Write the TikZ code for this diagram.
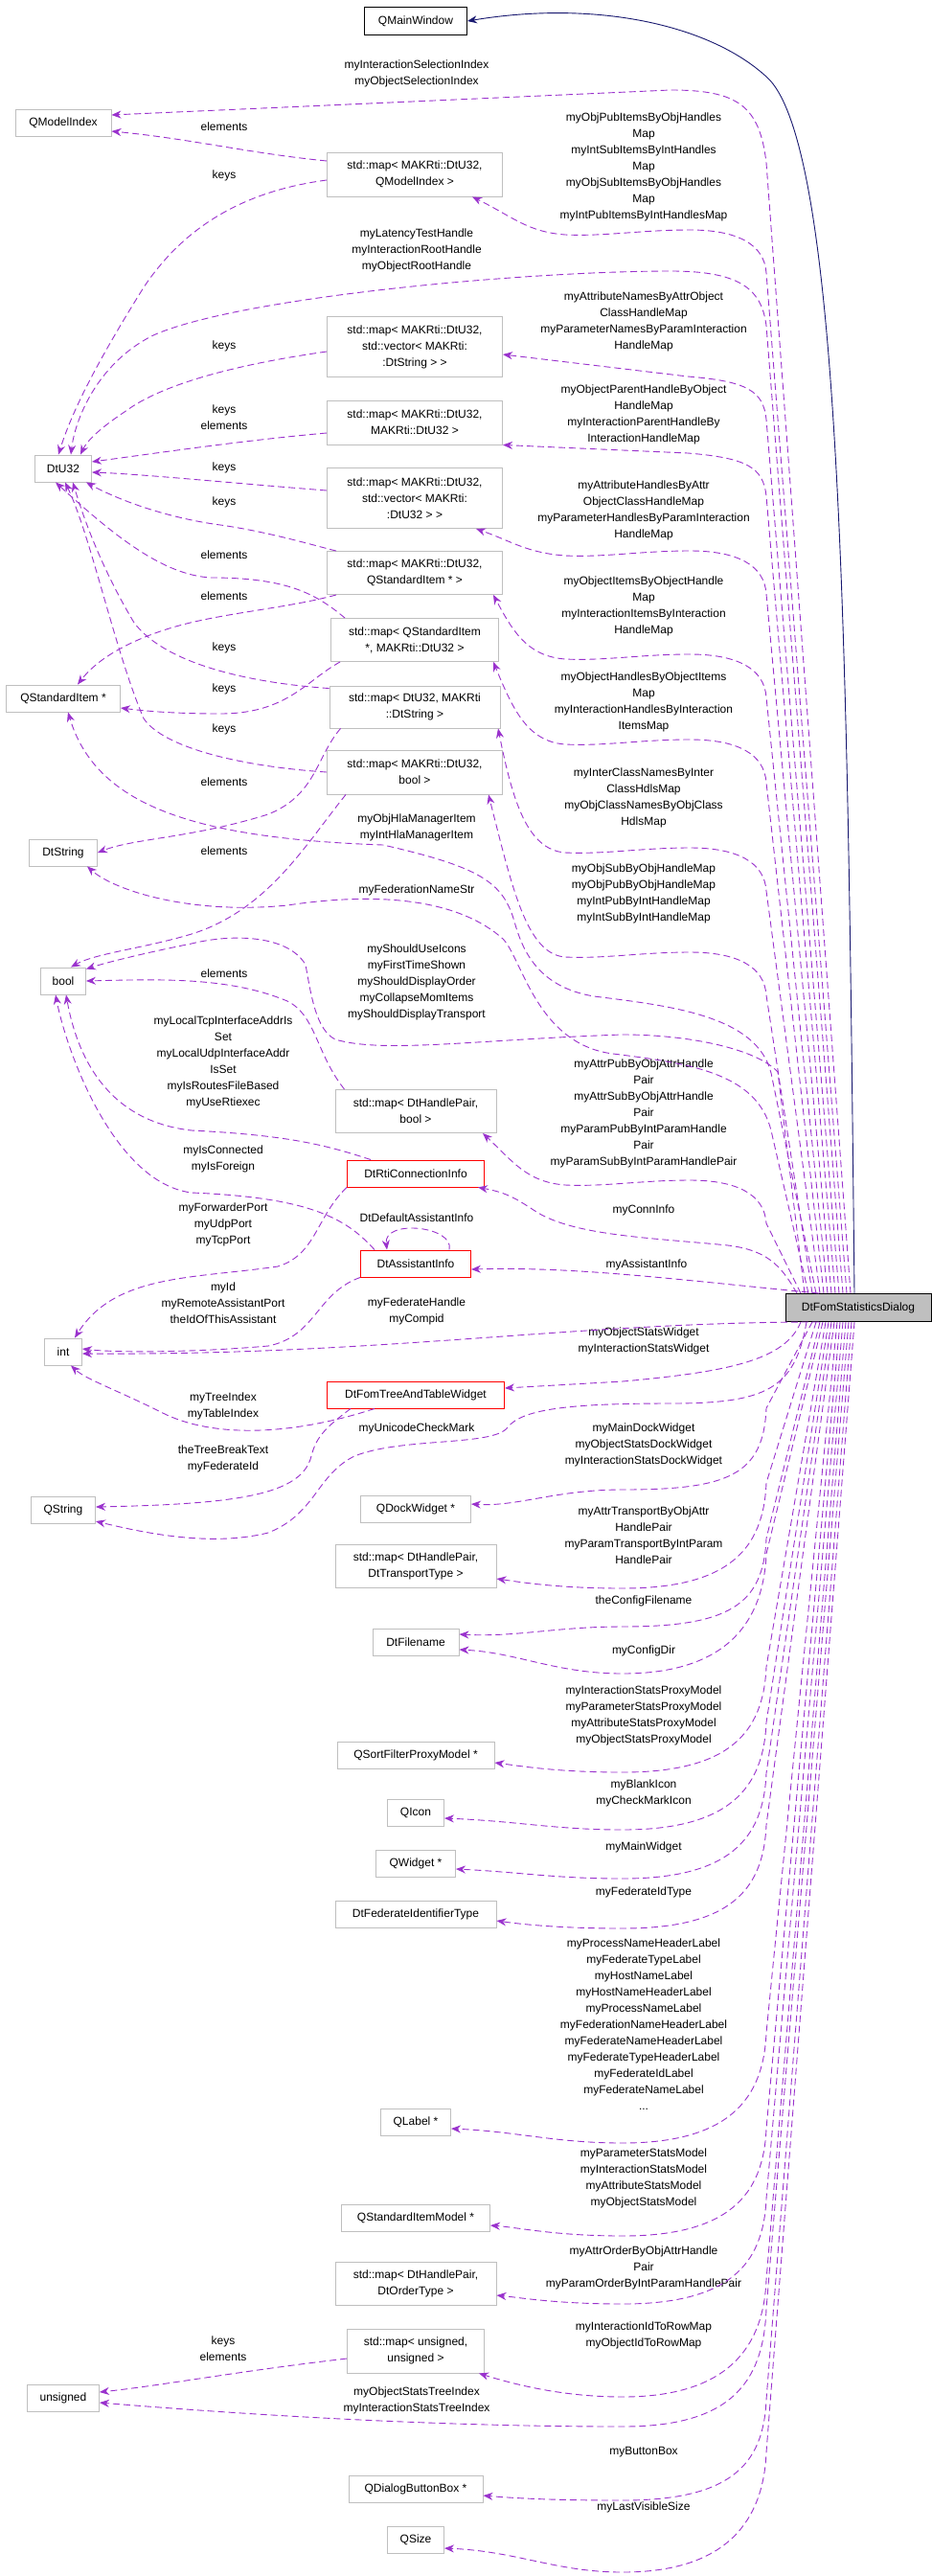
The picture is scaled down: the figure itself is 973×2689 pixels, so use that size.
\documentclass[tikz,border=0pt]{standalone}
\usepackage{fontspec}
\setmainfont{Liberation Sans}
\usetikzlibrary{arrows.meta,calc}
\definecolor{dep}{HTML}{9A32CD}
\definecolor{inh}{HTML}{191970}
\definecolor{bx}{HTML}{BFBFBF}
\tikzset{
 box/.style={draw=bx,fill=white,line width=0.9pt,align=center,inner sep=2pt,font=\fontsize{12}{17}\selectfont},
 rbox/.style={box,draw=red},
 lbl/.style={align=center,inner sep=0pt,font=\fontsize{12}{17}\selectfont},
 dep/.style={draw=dep,line width=0.9pt,dash pattern=on 7pt off 4pt,-{Stealth[length=10pt,width=8pt,fill=dep]}},
 inh/.style={draw=inh,line width=0.9pt,-{Stealth[length=10pt,width=8pt,fill=inh]}}
}
\newcommand\upE[3]{\draw[dep] (#2,0 |- dlg.north) -- (800,#3+70) .. controls (797,#3+40) and (780,#3+30) .. (718,#3+25) -- (#1);}
\newcommand\upB[4]{\draw[dep] (#2,0 |- dlg.north) -- (800,#3+#4+45) .. controls (798,#3+#4+15) and (770,#3+#4) .. (720,#3+#4) .. controls (670,#3+#4) and (630,#3+#4+7) .. (590,#3+#4+5) .. controls (550,#3+#4+2) and (535,#3+0.6*#4) .. (#1);}
\newcommand\dnE[4]{\draw[dep] (#2,0 |- dlg.south) -- (800,#3-100) .. controls (797,#3-30) and (760,#3+#4) .. (650,#3+#4) .. controls (580,#3+#4) and (540,#3+3) .. (#1);}
\begin{document}
\begin{tikzpicture}[x=1pt,y=-1pt]
\useasboundingbox[fill=white] (0,0) rectangle (973,2689);
% nodes
\node[box,draw=black,minimum width=107,minimum height=29] (qmw) at (434,22) {QMainWindow};
\node[box,minimum width=100,minimum height=28] (qmi) at (66,128) {QModelIndex};
\node[box,minimum width=183,minimum height=46] (mqmi) at (433,182) {std::map< MAKRti::DtU32,\\QModelIndex >};
\node[box,minimum width=59,minimum height=28] (dtu32) at (66,489) {DtU32};
\node[box,minimum width=183,minimum height=63] (mvs) at (433,362) {std::map< MAKRti::DtU32,\\std::vector< MAKRti:\\:DtString > >};
\node[box,minimum width=183,minimum height=46] (mdd) at (433,441) {std::map< MAKRti::DtU32,\\MAKRti::DtU32 >};
\node[box,minimum width=183,minimum height=63] (mvd) at (433,520) {std::map< MAKRti::DtU32,\\std::vector< MAKRti:\\:DtU32 > >};
\node[box,minimum width=183,minimum height=45] (mqsi) at (433,598) {std::map< MAKRti::DtU32,\\QStandardItem * >};
\node[box,minimum width=175,minimum height=45] (mqsid) at (433,668) {std::map< QStandardItem\\*, MAKRti::DtU32 >};
\node[box,minimum width=119,minimum height=28] (qsi) at (66,729) {QStandardItem *};
\node[box,minimum width=178,minimum height=44] (mdds) at (433,738) {std::map< DtU32, MAKRti\\::DtString >};
\node[box,minimum width=183,minimum height=46] (mdb) at (433,806) {std::map< MAKRti::DtU32,\\bool >};
\node[box,minimum width=71,minimum height=28] (dtstr) at (66,890) {DtString};
\node[box,minimum width=47,minimum height=28] (bool) at (66,1024) {bool};
\node[box,minimum width=168,minimum height=45] (mhpb) at (434,1160) {std::map< DtHandlePair,\\bool >};
\node[rbox,minimum width=143,minimum height=28] (rti) at (434,1225) {DtRtiConnectionInfo};
\node[rbox,minimum width=115,minimum height=28] (dai) at (434,1319) {DtAssistantInfo};
\node[box,minimum width=39,minimum height=28] (int) at (66,1411) {int};
\node[box,draw=black,fill=bx,minimum width=152,minimum height=29] (dlg) at (896,1365) {DtFomStatisticsDialog};
\node[rbox,minimum width=185,minimum height=28] (tree) at (434,1456) {DtFomTreeAndTableWidget};
\node[box,minimum width=67,minimum height=28] (qstr) at (66,1576) {QString};
\node[box,minimum width=115,minimum height=28] (qdock) at (434,1575) {QDockWidget *};
\node[box,minimum width=168,minimum height=45] (mtr) at (434,1635) {std::map< DtHandlePair,\\DtTransportType >};
\node[box,minimum width=90,minimum height=28] (dfn) at (434,1714) {DtFilename};
\node[box,minimum width=164,minimum height=28] (qsort) at (434,1832) {QSortFilterProxyModel *};
\node[box,minimum width=59,minimum height=28] (qicon) at (434,1892) {QIcon};
\node[box,minimum width=83,minimum height=28] (qwid) at (434,1945) {QWidget *};
\node[box,minimum width=168,minimum height=28] (dfit) at (434,1998) {DtFederateIdentifierType};
\node[box,minimum width=73,minimum height=28] (qlabel) at (434,2215) {QLabel *};
\node[box,minimum width=155,minimum height=28] (qsim) at (434,2315) {QStandardItemModel *};
\node[box,minimum width=168,minimum height=45] (mord) at (434,2384) {std::map< DtHandlePair,\\DtOrderType >};
\node[box,minimum width=143,minimum height=46] (muns) at (434,2454) {std::map< unsigned,\\unsigned >};
\node[box,minimum width=75,minimum height=28] (uns) at (66,2503) {unsigned};
\node[box,minimum width=140,minimum height=28] (qdbb) at (434,2598) {QDialogButtonBox *};
\node[box,minimum width=59,minimum height=28] (qsize) at (434,2651) {QSize};
% labels
\node[lbl] (l1) at (435,77) {myInteractionSelectionIndex\\myObjectSelectionIndex};
\node[lbl] (l2) at (234,132) {elements};
\node[lbl] (l3) at (234,183) {keys};
\node[lbl] (l4) at (672,174) {myObjPubItemsByObjHandles\\Map\\myIntSubItemsByIntHandles\\Map\\myObjSubItemsByObjHandles\\Map\\myIntPubItemsByIntHandlesMap};
\node[lbl] (l5) at (435,261) {myLatencyTestHandle\\myInteractionRootHandle\\myObjectRootHandle};
\node[lbl] (l6) at (234,361) {keys};
\node[lbl] (l7) at (672,336) {myAttributeNamesByAttrObject\\ClassHandleMap\\myParameterNamesByParamInteraction\\HandleMap};
\node[lbl] (l8) at (234,436) {keys\\elements};
\node[lbl] (l9) at (672,433) {myObjectParentHandleByObject\\HandleMap\\myInteractionParentHandleBy\\InteractionHandleMap};
\node[lbl] (l10) at (234,488) {keys};
\node[lbl] (l11) at (234,524) {keys};
\node[lbl] (l12) at (672,533) {myAttributeHandlesByAttr\\ObjectClassHandleMap\\myParameterHandlesByParamInteraction\\HandleMap};
\node[lbl] (l13) at (234,579) {elements};
\node[lbl] (l14) at (234,622) {elements};
\node[lbl] (l15) at (672,633) {myObjectItemsByObjectHandle\\Map\\myInteractionItemsByInteraction\\HandleMap};
\node[lbl] (l16) at (234,676) {keys};
\node[lbl] (l17) at (234,719) {keys};
\node[lbl] (l18) at (234,761) {keys};
\node[lbl] (l19) at (672,733) {myObjectHandlesByObjectItems\\Map\\myInteractionHandlesByInteraction\\ItemsMap};
\node[lbl] (l20) at (234,816) {elements};
\node[lbl] (l21) at (234,888) {elements};
\node[lbl] (l22) at (435,864) {myObjHlaManagerItem\\myIntHlaManagerItem};
\node[lbl] (l23) at (672,833) {myInterClassNamesByInter\\ClassHdlsMap\\myObjClassNamesByObjClass\\HdlsMap};
\node[lbl] (l24) at (435,929) {myFederationNameStr};
\node[lbl] (l25) at (672,933) {myObjSubByObjHandleMap\\myObjPubByObjHandleMap\\myIntPubByIntHandleMap\\myIntSubByIntHandleMap};
\node[lbl] (l26) at (435,1025) {myShouldUseIcons\\myFirstTimeShown\\myShouldDisplayOrder\\myCollapseMomItems\\myShouldDisplayTransport};
\node[lbl] (l27) at (234,1016) {elements};
\node[lbl] (l28) at (233,1109) {myLocalTcpInterfaceAddrIs\\Set\\myLocalUdpInterfaceAddr\\IsSet\\myIsRoutesFileBased\\myUseRtiexec};
\node[lbl] (l29) at (672,1162) {myAttrPubByObjAttrHandle\\Pair\\myAttrSubByObjAttrHandle\\Pair\\myParamPubByIntParamHandle\\Pair\\myParamSubByIntParamHandlePair};
\node[lbl] (l30) at (233,1210) {myIsConnected\\myIsForeign};
\node[lbl] (l31) at (672,1263) {myConnInfo};
\node[lbl] (l32) at (233,1278) {myForwarderPort\\myUdpPort\\myTcpPort};
\node[lbl] (l33) at (435,1271) {DtDefaultAssistantInfo};
\node[lbl] (l34) at (675,1320) {myAssistantInfo};
\node[lbl] (l35) at (233,1360) {myId\\myRemoteAssistantPort\\theIdOfThisAssistant};
\node[lbl] (l36) at (435,1369) {myFederateHandle\\myCompid};
\node[lbl] (l37) at (672,1400) {myObjectStatsWidget\\myInteractionStatsWidget};
\node[lbl] (l38) at (233,1468) {myTreeIndex\\myTableIndex};
\node[lbl] (l39) at (435,1491) {myUnicodeCheckMark};
\node[lbl] (l40) at (233,1523) {theTreeBreakText\\myFederateId};
\node[lbl] (l41) at (672,1508) {myMainDockWidget\\myObjectStatsDockWidget\\myInteractionStatsDockWidget};
\node[lbl] (l42) at (672,1603) {myAttrTransportByObjAttr\\HandlePair\\myParamTransportByIntParam\\HandlePair};
\node[lbl] (l43) at (672,1671) {theConfigFilename};
\node[lbl] (l44) at (672,1723) {myConfigDir};
\node[lbl] (l45) at (672,1791) {myInteractionStatsProxyModel\\myParameterStatsProxyModel\\myAttributeStatsProxyModel\\myObjectStatsProxyModel};
\node[lbl] (l46) at (672,1872) {myBlankIcon\\myCheckMarkIcon};
\node[lbl] (l47) at (672,1928) {myMainWidget};
\node[lbl] (l48) at (672,1975) {myFederateIdType};
\node[lbl] (l49) at (672,2113) {myProcessNameHeaderLabel\\myFederateTypeLabel\\myHostNameLabel\\myHostNameHeaderLabel\\myProcessNameLabel\\myFederationNameHeaderLabel\\myFederateNameHeaderLabel\\myFederateTypeHeaderLabel\\myFederateIdLabel\\myFederateNameLabel\\...};
\node[lbl] (l50) at (672,2274) {myParameterStatsModel\\myInteractionStatsModel\\myAttributeStatsModel\\myObjectStatsModel};
\node[lbl] (l51) at (672,2367) {myAttrOrderByObjAttrHandle\\Pair\\myParamOrderByIntParamHandlePair};
\node[lbl] (l52) at (672,2438) {myInteractionIdToRowMap\\myObjectIdToRowMap};
\node[lbl] (l53) at (233,2452) {keys\\elements};
\node[lbl] (l54) at (435,2506) {myObjectStatsTreeIndex\\myInteractionStatsTreeIndex};
\node[lbl] (l55) at (672,2560) {myButtonBox};
\node[lbl] (l56) at (672,2617) {myLastVisibleSize};
% inheritance
\draw[inh] (892,0 |- dlg.north) .. controls (885,700) and (880,150) .. (800,80) .. controls (740,25) and (620,0) .. (qmw.east);
% up edges from dialog
\draw[dep] (888,0 |- dlg.north) -- (800,170) .. controls (793,110) and (770,94) .. (700,94) -- ($(qmi.east)+(0,-8)$);
\upB{$(mqmi.south)+(60,0)$}{884}{205}{35}
\draw[dep] (880,0 |- dlg.north) -- (800,340) .. controls (795,300) and (770,283) .. (700,283) .. controls (550,283) and (250,310) .. (160,350) .. controls (100,380) and (78,440) .. ($(dtu32.north)+(8,0)$);
\upE{$(mvs.east)+(0,8)$}{876}{368}
\upE{mdd.south east}{872}{448}
\upB{$(mvd.south)+(64,0)$}{868}{551}{24}
\upB{$(mqsi.south)+(82,0)$}{864}{621}{62}
\upB{$(mqsid.south)+(82,0)$}{860}{690}{82}
\upB{$(mdds.south)+(87,0)$}{856}{760}{125}
\draw[dep] (852,0 |- dlg.north) -- (805,1120) .. controls (790,1060) and (700,1050) .. (620,1040) .. controls (560,1030) and (545,990) .. (537,962) .. controls (525,920) and (500,905) .. (400,882) .. controls (200,875) and (100,840) .. ($(qsi.south)+(5,0)$);
\upB{$(mdb.south)+(77,0)$}{848}{829}{165}
\draw[dep] (844,0 |- dlg.north) -- (805,1180) .. controls (790,1120) and (720,1110) .. (640,1100) .. controls (560,1090) and (545,1000) .. (525,980) .. controls (480,940) and (400,930) .. (300,945) .. controls (200,955) and (120,930) .. ($(dtstr.south)+(25,0)$);
\draw[dep] (840,0 |- dlg.north) -- (812,1119) .. controls (790,1095) and (720,1080) .. (650,1080) .. controls (500,1085) and (400,1100) .. (350,1085) .. controls (330,1075) and (325,1040) .. (319,1007) .. controls (300,975) and (240,975) .. (200,985) .. controls (150,995) and (110,1005) .. ($(bool.north east)+(0,2)$);
\upB{$(mhpb.south)+(70,0)$}{836}{1182}{50}
\draw[dep] (832,0 |- dlg.north) .. controls (815,1320) and (800,1305) .. (760,1300) .. controls (680,1292) and (600,1290) .. (560,1265) .. controls (540,1252) and (530,1245) .. ($(rti.south)+(65,0)$);
\draw[dep] (dlg.160) .. controls (700,1335) and (600,1322) .. ($(dai.east)+(0,6)$);
\draw[dep] (dlg.200) .. controls (600,1380) and (400,1415) .. ($(int.east)+(0,2)$);
% left side edges
\draw[dep] ($(mqmi.west)+(0,-14)$) .. controls (260,160) and (200,145) .. ($(qmi.east)+(0,9)$);
\draw[dep] ($(mqmi.west)+(0,6)$) .. controls (250,200) and (190,240) .. (150,300) .. controls (100,380) and (75,430) .. ($(dtu32.north)+(-5,0)$);
\draw[dep] ($(mvs.west)+(0,5)$) .. controls (250,380) and (170,400) .. (130,430) .. controls (100,450) and (90,462) .. ($(dtu32.north)+(18,0)$);
\draw[dep] ($(mdd.west)+(0,11)$) .. controls (250,460) and (150,475) .. ($(dtu32.east)+(0,-7)$);
\draw[dep] ($(mvd.west)+(0,-8)$) .. controls (250,505) and (150,495) .. ($(dtu32.east)+(0,4)$);
\draw[dep] ($(mqsi.north west)+(10,0)$) .. controls (330,570) and (280,555) .. (230,548) .. controls (170,540) and (120,520) .. ($(dtu32.south east)+(-6,0)$);
\draw[dep] ($(mqsid.north west)+(15,0)$) .. controls (330,620) and (300,603) .. (220,603) .. controls (170,600) and (120,560) .. ($(dtu32.south)+(-8,0)$);
\draw[dep] ($(mdds.north west)+(0,3)$) .. controls (250,712) and (170,690) .. (140,650) .. controls (110,600) and (90,550) .. ($(dtu32.south)+(10,0)$);
\draw[dep] (mdb.west) .. controls (250,800) and (170,780) .. (150,750) .. controls (120,680) and (95,560) .. ($(dtu32.south)+(2,0)$);
\draw[dep] ($(mqsi.south west)+(10,0)$) .. controls (300,635) and (230,640) .. (180,655) .. controls (130,670) and (100,690) .. ($(qsi.north)+(15,0)$);
\draw[dep] ($(mqsid.south west)+(10,0)$) .. controls (320,710) and (300,745) .. (230,745) .. controls (180,745) and (150,742) .. ($(qsi.east)+(0,10)$);
\draw[dep] ($(mdds.south west)+(12,0)$) .. controls (330,790) and (330,830) .. (280,850) .. controls (200,875) and (140,875) .. (dtstr.east);
\draw[dep] ($(mdb.south west)+(20,0)$) .. controls (320,880) and (280,950) .. (200,975) .. controls (150,990) and (100,995) .. ($(bool.north)+(8,0)$);
\draw[dep] ($(mhpb.north west)+(10,0)$) .. controls (330,1100) and (330,1060) .. (300,1045) .. controls (240,1020) and (170,1022) .. (bool.east);
\draw[dep] ($(rti.north west)+(25,0)$) .. controls (340,1195) and (300,1185) .. (200,1180) .. controls (110,1170) and (80,1100) .. ($(bool.south)+(3,0)$);
\draw[dep] ($(dai.north west)+(15,0)$) .. controls (360,1270) and (320,1250) .. (200,1245) .. controls (120,1235) and (70,1100) .. ($(bool.south)+(-8,0)$);
\draw[dep] ($(dai.north)+(35,0)$) .. controls (475,1280) and (400,1272) .. ($(dai.north)+(-30,0)$);
\draw[dep] (rti.south west) .. controls (330,1270) and (330,1310) .. (290,1322) .. controls (200,1335) and (120,1330) .. ($(int.north)+(12,0)$);
\draw[dep] (dai.south west) .. controls (330,1350) and (330,1395) .. (280,1405) .. controls (200,1412) and (120,1412) .. ($(int.east)+(0,-3)$);
\draw[dep] ($(tree.south west)+(50,0)$) .. controls (300,1500) and (220,1500) .. (170,1475) .. controls (120,1450) and (90,1440) .. ($(int.south)+(8,0)$);
\draw[dep] ($(tree.south west)+(25,0)$) .. controls (340,1490) and (330,1500) .. (325,1520) .. controls (315,1560) and (250,1570) .. ($(qstr.east)+(0,-3)$);
\draw[dep] ($(muns.west)+(0,8)$) .. controls (250,2475) and (170,2490) .. ($(uns.east)+(0,-6)$);
% down edges from dialog
\draw[dep] (836,0 |- dlg.south) .. controls (820,1420) and (760,1432) .. (650,1442) -- ($(tree.east)+(0,-7)$);
\draw[dep] (842,0 |- dlg.south) .. controls (830,1450) and (800,1465) .. (700,1465) .. controls (600,1465) and (545,1470) .. (530,1490) .. controls (515,1510) and (420,1500) .. (370,1520) .. controls (330,1540) and (330,1580) .. (280,1600) .. controls (220,1615) and (150,1600) .. ($(qstr.east)+(0,12)$);
\dnE{$(qdock.east)+(0,-5)$}{848}{1570}{-15}
\dnE{$(mtr.east)+(0,13)$}{852}{1648}{10}
\dnE{$(dfn.east)+(0,-8)$}{856}{1706}{-8}
\dnE{$(dfn.east)+(0,8)$}{859}{1722}{25}
\dnE{$(qsort.east)+(0,8)$}{862}{1840}{10}
\dnE{$(qicon.east)+(0,6)$}{865}{1898}{12}
\dnE{$(qwid.east)+(0,6)$}{868}{1951}{10}
\dnE{$(dfit.east)+(0,7)$}{871}{2005}{8}
\dnE{$(qlabel.east)+(0,7)$}{874}{2222}{15}
\dnE{$(qsim.east)+(0,8)$}{877}{2322}{12}
\dnE{$(mord.east)+(0,12)$}{880}{2395}{10}
\draw[dep] (883,0 |- dlg.south) -- (800,2380) .. controls (797,2450) and (760,2502) .. (650,2502) .. controls (590,2502) and (540,2490) .. ($(muns.south)+(66,0)$);
\draw[dep] (886,0 |- dlg.south) -- (800,2410) .. controls (797,2490) and (760,2533) .. (650,2533) .. controls (450,2533) and (250,2520) .. ($(uns.east)+(0,5)$);
\dnE{$(qdbb.east)+(0,7)$}{889}{2605}{5}
\dnE{$(qsize.east)+(0,9)$}{892}{2660}{25}
\end{tikzpicture}
\end{document}
